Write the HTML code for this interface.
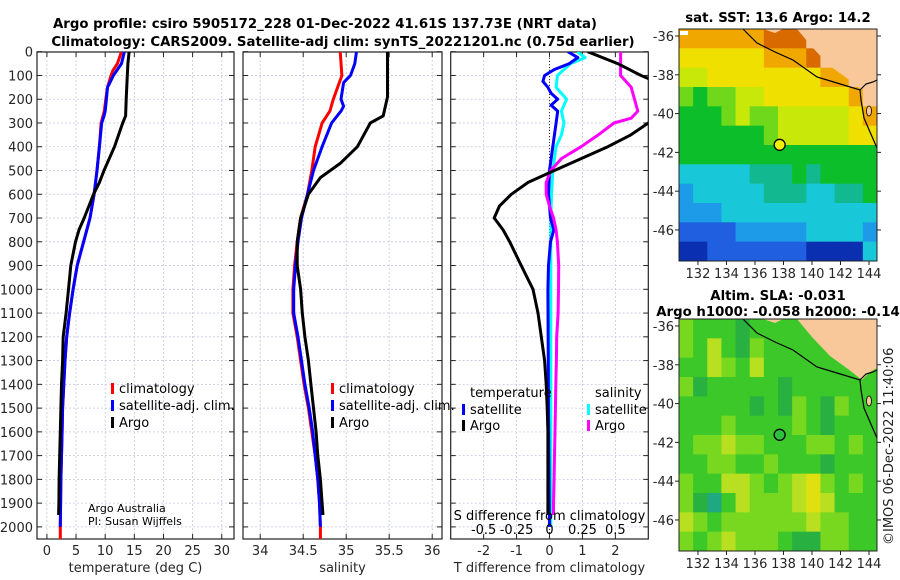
<!DOCTYPE html>
<html><head><meta charset="utf-8">
<style>
html,body{margin:0;padding:0;background:#fff;}
svg{display:block;font-family:"DejaVu Sans","Liberation Sans",sans-serif;}
.tk{font-size:13px;fill:#262626;}
.ttl{font-size:13.3px;font-weight:bold;fill:#000;}
.lg{font-size:13px;fill:#000;}
</style></head>
<body>
<svg id="chart" width="900" height="580" viewBox="0 0 900 580">
<text class="ttl" x="325" y="28" text-anchor="middle">Argo profile: csiro 5905172_228 01-Dec-2022 41.61S 137.73E (NRT data)</text>
<text class="ttl" x="343" y="46" text-anchor="middle">Climatology: CARS2009. Satellite-adj clim: synTS_20221201.nc (0.75d earlier)</text>
<g id="panels"></g>
<g id="maps"></g>
<text x="893" y="545" transform="rotate(-90 893 545)" font-size="13" fill="#222">©IMOS 06-Dec-2022 11:40:06</text>
</svg>
<script>
// ---------- profile data (depth in dbar) ----------
const depthsA = [0,50,100,200,270,300,400,500,550,600,700,750,800,900,1000,1100,1200,1300,1400,1500,1600,1700,1800,1900,1950];
const argoT = [14.1,13.9,13.8,13.6,13.5,13.0,11.6,9.8,9.0,8.0,6.4,5.5,4.9,4.1,3.7,3.3,2.8,2.7,2.5,2.4,2.3,2.2,2.1,2.05,2.0];
const depthsC = [0,50,80,100,150,200,250,300,400,500,600,700,800,900,1000,1100,1200,1300,1400,1500,1600,1700,1800,1900,2000,2088];
const climT = [12.8,12.1,11.3,11.0,10.4,10.1,9.85,9.3,9.0,8.6,8.1,7.4,6.3,5.2,4.5,3.9,3.4,3.1,2.9,2.7,2.6,2.5,2.4,2.35,2.3,2.3];
const depthsS = [0,50,100,130,150,200,250,270,300,400,500,600,700,800,900,1000,1100,1200,1300,1400,1500,1600,1700,1800,1900,2000];
const satT = [13.3,12.8,11.4,10.8,10.4,10.2,10.0,9.8,9.4,9.0,8.6,8.1,7.4,6.3,5.2,4.5,3.9,3.4,3.1,2.9,2.7,2.6,2.5,2.4,2.35,2.3];
const argoSdepth = [0,190,270,300,400,470,530,600,700,800,900,1000,1100,1200,1300,1400,1500,1600,1700,1800,1900,1950];
const argoS = [35.48,35.48,35.43,35.28,35.13,34.93,34.70,34.56,34.47,34.43,34.43,34.47,34.49,34.52,34.56,34.59,34.62,34.65,34.67,34.70,34.72,34.73];
const climSdepth = [0,100,200,250,300,400,500,600,700,800,900,1000,1100,1200,1300,1400,1500,1600,1700,1800,1900,2000,2088];
const climS = [34.93,34.95,34.85,34.81,34.72,34.64,34.60,34.55,34.47,34.43,34.40,34.38,34.38,34.43,34.47,34.51,34.56,34.60,34.64,34.67,34.69,34.70,34.70];
const satSdepth = [0,50,100,130,200,230,250,300,400,500,600,700,800,900,1000,1100,1200,1300,1400,1500,1600,1700,1800,1900,2000];
const satS = [35.12,35.10,35.05,34.97,34.94,34.97,34.94,34.83,34.72,34.62,34.55,34.48,34.44,34.41,34.39,34.39,34.44,34.48,34.52,34.57,34.61,34.64,34.67,34.69,34.70];
// differences
const dTdepth = [0,50,100,130,280,300,350,400,450,500,550,600,650,700,750,800,900,1000,1100,1200,1300,1400,1500,1600,1950];
const argoDT = [1.16,2.07,2.78,3.3,3.3,3.0,2.47,1.77,0.96,0.15,-0.65,-1.16,-1.52,-1.68,-1.41,-1.21,-0.86,-0.5,-0.35,-0.25,-0.15,-0.1,-0.07,-0.05,-0.05];
const satDTdepth = [0,25,50,75,100,125,150,175,200,225,250,300,400,500,600,700,750,800,900,1000,1500,2000];
const satDT = [0.56,0.86,0.6,0.15,-0.15,-0.2,-0.05,0.05,0.25,0.05,0.25,0.2,0.1,0,-0.03,0.03,0.13,0.03,-0.03,-0.05,-0.03,0];
const argoDSdepth = [0,100,150,250,280,300,350,400,450,500,550,600,650,700,750,800,900,1000,1100,1200,1300,1400,1500,1600,1700,1800,1900,1950];
const argoDS = [0.54,0.54,0.62,0.67,0.62,0.49,0.37,0.24,0.09,0.01,-0.025,-0.025,0,0.03,0.05,0.06,0.07,0.068,0.065,0.055,0.052,0.048,0.045,0.042,0.038,0.035,0.03,0.03];
const satDSdepth = [0,25,50,100,150,200,250,300,350,400,500,600,700,1000,1500,2000];
const satDS = [0.21,0.27,0.16,0.06,0.05,0.13,0.09,0.11,0.09,0.05,0.025,0.015,0.01,0.01,0.01,0.01];
// ticks
const depthTicks = [0,100,200,300,400,500,600,700,800,900,1000,1100,1200,1300,1400,1500,1600,1700,1800,1900,2000];
const tTicks = [0,5,10,15,20,25,30];
const sTicks = [34,34.5,35,35.5,36];
const sTickLabels = ['34','34.5','35','35.5','36'];
const dTTicks = [-2,-1,0,1,2];
const dSTicks = [-0.5,-0.25,0,0.25,0.5];
const dSTickLabels = ['-0.5','-0.25','0','0.25','0.5'];
// map data
const lonTicks = [132,134,136,138,140,142,144];
const latTicks = [-36,-38,-40,-42,-44,-46];
const argoLon = 137.73, argoLat = -41.61;
const sstPalette = ['#0a2fb0','#1f5fe0','#1e9be8','#19c8d8','#12b890','#0cbf2a','#6fd81a','#c8e80a','#f0e000','#f0a800','#d86a00','#f8c89a'];
const sstGrid = [
[9,9,9,9,9,9,10,10,10,11,11,11,11,11],
[8,8,8,8,8,8,9,9,9,10,11,11,11,11],
[7,7,8,8,8,8,8,8,8,8,9,9,11,11],
[6,5,6,6,7,7,8,8,8,8,8,8,9,11],
[5,5,5,6,7,6,6,7,7,7,7,7,8,9],
[5,5,5,5,5,5,6,7,7,7,7,7,8,8],
[5,5,5,5,5,5,5,5,5,5,5,5,5,5],
[3,3,3,3,3,4,4,4,5,4,5,5,5,5],
[2,3,3,3,3,3,4,4,4,3,3,4,4,5],
[2,2,2,3,3,3,3,3,3,3,3,3,3,3],
[1,1,1,1,2,2,2,2,2,3,3,3,3,2],
[0,0,1,1,1,1,1,1,1,0,0,0,0,3]];
const slaPalette = ['#20a880','#28b040','#3cc828','#78d820','#b8e020','#e0e010'];
const slaGrid = [
[3,2,2,2,1,2,2,2,2,2,2,2,2,2],
[3,2,4,2,1,3,2,2,2,2,2,2,2,2],
[2,2,4,3,2,4,2,2,2,2,2,2,2,2],
[3,1,2,2,2,2,2,1,2,2,2,2,2,2],
[2,2,2,2,2,1,2,1,3,2,1,3,2,2],
[2,2,2,3,2,2,2,2,3,2,1,2,2,2],
[2,3,3,4,3,3,2,2,2,3,3,2,3,2],
[2,2,3,3,2,2,3,2,2,2,1,2,2,2],
[3,2,2,4,4,3,2,3,4,5,3,2,3,2],
[3,1,0,2,4,3,3,3,4,5,4,2,2,2],
[4,3,2,3,3,3,3,3,3,4,3,3,2,2],
[3,2,3,4,3,3,3,2,1,1,3,3,2,2]];

const NS='http://www.w3.org/2000/svg';
function mk(tag, attrs, parent){const e=document.createElementNS(NS,tag);for(const k in attrs)e.setAttribute(k,attrs[k]);(parent||document.getElementById('chart')).appendChild(e);return e;}

const Y0=51.7, YPER=0.2376, YB=539, YT=52;
const yD = d => Y0 + d*YPER;

function panel(name, x0, x1, xmin, xmax, ticks, labels, title){
  const g = mk('g',{},document.getElementById('panels'));
  
  
  const sx = v => x0 + (v-xmin)/(xmax-xmin)*(x1-x0);
  depthTicks.forEach(d=>{
    const l=mk('line',{x1:x0,x2:x1,y1:yD(d),y2:yD(d),stroke:'#c4c8e0','stroke-width':0.8,'stroke-dasharray':'2,2'},g);
     
    mk('line',{x1:x0,x2:x0+5,y1:yD(d),y2:yD(d),stroke:'#222'},g);
    mk('line',{x1:x1-5,x2:x1,y1:yD(d),y2:yD(d),stroke:'#222'},g);
  });
  ticks.forEach((t,i)=>{
    const gl=mk('line',{x1:sx(t),x2:sx(t),y1:YT,y2:YB,stroke:'#c4c8e0','stroke-width':0.8,'stroke-dasharray':'2,2'},g);
     
    mk('line',{x1:sx(t),x2:sx(t),y1:YB,y2:YB-5,stroke:'#222'},g);
    mk('line',{x1:sx(t),x2:sx(t),y1:YT,y2:YT+5,stroke:'#222'},g);
    const tx=mk('text',{x:sx(t),y:555,'text-anchor':'middle',class:'tk'},g);
    tx.textContent=labels?labels[i]:String(t);
     
  });
  const at=mk('text',{x:(x0+x1)/2,y:572,'text-anchor':'middle',class:'tk'},g);
  at.textContent=title;
   
  const fr=mk('rect',{x:x0,y:YT,width:x1-x0,height:YB-YT,fill:'none',stroke:'#222','stroke-width':1.2},g);
   
  return {g,sx,x0,x1};
}
function line(p, depths, vals, color, name, w){
  const pts = depths.map((d,i)=>p.sx(vals[i]).toFixed(1)+','+Math.min(yD(d),YB).toFixed(1)).join(' ');
  const cid='clip'+name;
  const cp=mk('clipPath',{id:cid},p.g); mk('rect',{x:p.x0,y:YT,width:p.x1-p.x0,height:YB-YT},cp);
  const pl=mk('polyline',{points:pts,fill:'none',stroke:color,'stroke-width':w||3,'stroke-linejoin':'round','clip-path':'url(#'+cid+')'},p.g);
  
  
}
function legend(g, x, y, color, label, name){
  mk('rect',{x:x,y:y-9,width:3,height:11,fill:color},g);
  const t=mk('text',{x:x+8,y:y+1,class:'lg'},g); t.textContent=label;
  
  
}

// Panel 1 temperature
const p1 = panel('temperature-panel',37,234,-1.7,32.1,tTicks,null,'temperature (deg C)');
depthTicks.forEach(d=>{const t=mk('text',{x:33,y:yD(d)+5,'text-anchor':'end',class:'tk'},p1.g);t.textContent=String(d);
 });
line(p1, depthsC, climT, '#ff0000', 'clim-temperature-line');
line(p1, depthsS, satT, '#0000ff', 'satellite-temperature-line');
line(p1, depthsA, argoT, '#000000', 'argo-temperature-line');
legend(p1.g,111,392,'#ff0000','climatology','legend-climatology');
legend(p1.g,111,409,'#0000ff','satellite-adj. clim.','legend-satellite-adj');
legend(p1.g,111,426,'#000000','Argo','legend-argo');
{const t=mk('text',{x:88,y:512,'font-size':11,fill:'#000'},p1.g);t.textContent='Argo Australia';
const t2=mk('text',{x:88,y:525,'font-size':11,fill:'#000'},p1.g);t2.textContent='PI: Susan Wijffels';}

// Panel 2 salinity
const p2 = panel('salinity-panel',243,442,33.8,36.114,sTicks,sTickLabels,'salinity');
line(p2, climSdepth, climS, '#ff0000', 'clim-salinity-line');
line(p2, satSdepth, satS, '#0000ff', 'satellite-salinity-line');
line(p2, argoSdepth, argoS, '#000000', 'argo-salinity-line');
legend(p2.g,331,392,'#ff0000','climatology','legend-climatology');
legend(p2.g,331,409,'#0000ff','satellite-adj. clim.','legend-satellite-adj');
legend(p2.g,331,426,'#000000','Argo','legend-argo');

// Panel 3 differences
const p3 = panel('difference-panel',450.7,648.3,-3,3,dTTicks,null,'T difference from climatology');
mk('line',{x1:p3.sx(0),x2:p3.sx(0),y1:YT,y2:YB,stroke:'#333','stroke-width':1,'stroke-dasharray':'1,2'},p3.g);
const p3s = {g:p3.g, x0:p3.x0, x1:p3.x1, sx: v => p3.sx(v*4)};
line(p3s, satDSdepth, satDS, '#00ffff', 'satellite-salinity-diff-line');
line(p3, satDTdepth, satDT, '#0000ff', 'satellite-temperature-diff-line');
line(p3s, argoDSdepth, argoDS, '#ff00ff', 'argo-salinity-diff-line');
line(p3, dTdepth, argoDT, '#000000', 'argo-temperature-diff-line');
{const t=mk('text',{x:470,y:397,class:'lg'},p3.g);t.textContent='temperature';
const t2=mk('text',{x:595,y:397,class:'lg'},p3.g);t2.textContent='salinity';}
legend(p3.g,462,413,'#0000ff','satellite','legend-t-satellite');
legend(p3.g,462,429,'#000000','Argo','legend-t-argo');
legend(p3.g,587,413,'#00ffff','satellite','legend-s-satellite');
legend(p3.g,587,429,'#ff00ff','Argo','legend-s-argo');
{const t=mk('text',{x:p3.sx(0),y:520,'text-anchor':'middle',class:'lg'},p3.g);t.textContent='S difference from climatology';}
dSTicks.forEach((v,i)=>{const t=mk('text',{x:p3s.sx(v),y:534,'text-anchor':'middle',class:'lg'},p3.g);t.textContent=dSTickLabels[i];
 });

// ---------- maps ----------
function map(name, top, grid, pal, title1, title2, markerFill){
  const g = mk('g',{},document.getElementById('maps'));
  
  
  const L=679,R=877,B=top+232, lonMin=130.67, lonMax=144.56, latTop=-35.64, latBot=-47.6;
  const sx = lon => L + (lon-lonMin)/(lonMax-lonMin)*(R-L);
  const sy = lat => top + (latTop-lat)/(latTop-latBot)*(B-top);
  const cw=(R-L)/grid[0].length, ch=(B-top)/grid.length;
  grid.forEach((row,r)=>row.forEach((v,c)=>{
    const cell=mk('rect',{x:L+c*cw,y:top+r*ch,width:cw+0.5,height:ch+0.5,fill:pal[v]},g);
    
    
  }));
  const o=top-29;
  const land=mk('polygon',{points:`797,${29+o} 812,${47+o} 830,${66+o} 848,${79+o} 862,${90+o} 870,${82+o} 877,${78+o} 877,${29+o}`,fill:'#f8c89a'},g);
   
  mk('polygon',{points:`763,${29+o} 775,${33+o} 783,${29+o}`,fill:'#f8c89a'},g);
  mk('ellipse',{cx:869,cy:111+o,rx:2.5,ry:5,fill:'#f8c89a',stroke:'#000','stroke-width':0.8},g);
  const coast=mk('polyline',{points:`743,${29+o} 757,${43+o} 775,${52+o} 793,${60+o} 817,${77+o} 837,${83+o} 860,${90+o} 866,${84+o} 873,${82+o} 877,${80+o}`,fill:'none',stroke:'#000','stroke-width':1.2},g);
   
  mk('polyline',{points:`860,${90+o} 861,${100+o} 864,${118+o} 870,${132+o} 877,${148+o}`,fill:'none',stroke:'#000','stroke-width':1.2},g);
  const mkr=mk('circle',{cx:sx(argoLon),cy:sy(argoLat),r:5.5,fill:markerFill,stroke:'#000','stroke-width':1.3},g);
   
  mk('rect',{x:L,y:top,width:R-L,height:B-top,fill:'none',stroke:'#222','stroke-width':1},g);
  lonTicks.forEach(v=>{mk('line',{x1:sx(v),x2:sx(v),y1:B,y2:B+4,stroke:'#222'},g);
    const t=mk('text',{x:sx(v),y:B+17,'text-anchor':'middle',class:'tk'},g);t.textContent=String(v);
     });
  latTicks.forEach(v=>{mk('line',{x1:L-4,x2:L,y1:sy(v),y2:sy(v),stroke:'#222'},g);
    mk('line',{x1:R,x2:R+4,y1:sy(v),y2:sy(v),stroke:'#222'},g);
    const t=mk('text',{x:L-5,y:sy(v)+5,'text-anchor':'end',class:'tk'},g);t.textContent=String(v);
     });
  const tt=mk('text',{x:778,y:top-(title2?19:7),'text-anchor':'middle',class:'ttl'},g);tt.textContent=title1;
   
  if(title2){const t2=mk('text',{x:778,y:top-3,'text-anchor':'middle',class:'ttl'},g);t2.textContent=title2;
     }
}
map('sst-map',29,sstGrid,sstPalette,'sat. SST: 13.6 Argo: 14.2',null,'#f0f000');
{const w=mk('rect',{x:680,y:31,width:8,height:4,fill:'#fff'});}
map('sla-map',319,slaGrid,slaPalette,'Altim. SLA: -0.031','Argo h1000: -0.058 h2000: -0.14','#30c040');
</script>
</body></html>
